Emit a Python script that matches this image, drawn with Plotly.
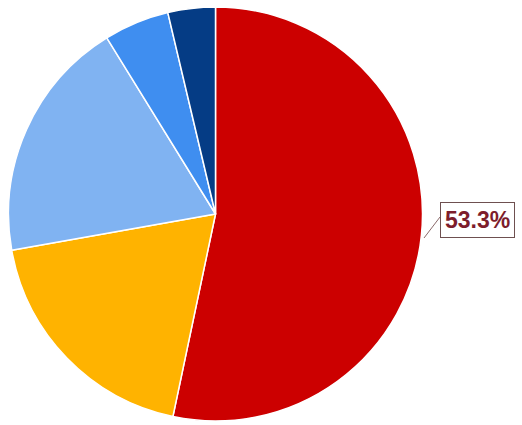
import plotly.graph_objects as go

labels = ["A", "B", "C", "D", "E"]
values = [53.3, 18.9, 19.0, 5.1, 3.7]
colors = ["#cc0000", "#ffb300", "#80b3f2", "#3f8ef0", "#053c85"]

W, H = 522, 425
fig = go.Figure(go.Pie(
    labels=labels, values=values, sort=False, direction="clockwise", rotation=0,
    marker=dict(colors=colors, line=dict(color="white", width=1.5)),
    textinfo="none", hoverinfo="label+percent", showlegend=False,
    domain=dict(x=[8 / W, 423 / W], y=[4 / H, 418 / H]),
))

pct = values[0] / sum(values) * 100
fig.add_annotation(
    x=440 / W, y=(H - 220) / H, xref="paper", yref="paper",
    xanchor="left", yanchor="middle", showarrow=False,
    text=f"<b>{pct:.1f}%</b>",
    font=dict(family="Arial, Liberation Sans", size=23, color="#7d1d2c"),
    bordercolor="#6e5050", borderwidth=1, borderpad=4, bgcolor="white",
)
fig.add_shape(type="line", xref="paper", yref="paper",
              x0=424 / W, y0=(H - 238) / H, x1=440 / W, y1=(H - 217) / H,
              line=dict(color="#8b6a6a", width=1))

fig.update_layout(width=W, height=H, margin=dict(l=0, r=0, t=0, b=0),
                  paper_bgcolor="white", plot_bgcolor="white")
fig.write_html("out.html")
